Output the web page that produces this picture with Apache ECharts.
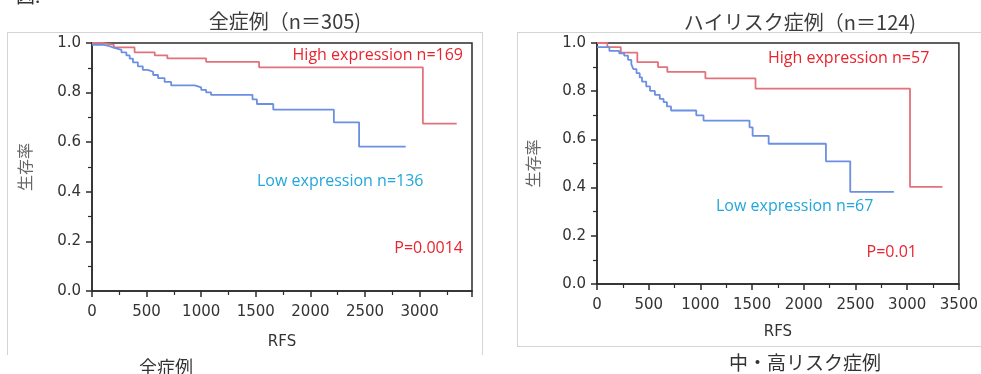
<!DOCTYPE html>
<html>
<head>
<meta charset="utf-8">
<script src="https://cdn.jsdelivr.net/npm/echarts@6/dist/echarts.min.js"></script>
<style>
  html, body { margin: 0; padding: 0; background: #fff; }
  #chart { width: 981px; height: 374px; }
</style>
</head>
<body>
<div id="chart"></div>
<script>
// 全症例 (n=305)
const allHighTime = [0, 100, 200, 390, 575, 690, 1045, 1530, 3030, 3340];
const allHighSurv = [1.0, 0.992, 0.982, 0.962, 0.95, 0.938, 0.924, 0.902, 0.675, 0.675];
const allLowTime = [0, 100, 160, 205, 270, 315, 345, 375, 420, 465, 510, 560, 605, 665, 725, 940, 1000, 1045, 1090, 1470, 1510, 1660, 2215, 2446, 2873];
const allLowSurv = [0.993, 0.987, 0.98, 0.972, 0.962, 0.95, 0.937, 0.922, 0.906, 0.892, 0.884, 0.871, 0.858, 0.843, 0.829, 0.821, 0.811, 0.801, 0.791, 0.773, 0.754, 0.731, 0.68, 0.582, 0.582];

// ハイリスク症例 (n=124)
const riskHighTime = [0, 100, 230, 390, 590, 680, 1048, 1533, 3027, 3340];
const riskHighSurv = [1.0, 0.983, 0.96, 0.921, 0.9, 0.88, 0.853, 0.811, 0.403, 0.403];
const riskLowTime = [0, 120, 215, 263, 300, 332, 351, 382, 413, 435, 476, 513, 560, 607, 644, 676, 716, 960, 1030, 1475, 1505, 1660, 2214, 2449, 2871];
const riskLowSurv = [0.983, 0.967, 0.957, 0.948, 0.93, 0.912, 0.892, 0.875, 0.857, 0.84, 0.82, 0.801, 0.785, 0.768, 0.755, 0.737, 0.72, 0.7, 0.678, 0.65, 0.615, 0.582, 0.509, 0.382, 0.382];

const yTicks = [0, 0.2, 0.4, 0.6, 0.8, 1.0];
const xTickStep = 500;

const HIGH_COLOR = "#e2727c";
const LOW_COLOR = "#6b8fe2";
const RED_TEXT = "#e8242e";
const CYAN_TEXT = "#22a6dc";
const AXIS_COLOR = "#2b2b2b";
const LABEL_FONT = "DejaVu Sans";
const JP_FONT = "Noto Sans CJK JP";
const NOTE_FONT = "Open Sans";

const pairs = (xs, ys) => xs.map((x, i) => [x, ys[i]]);

const xAxisFor = (gridIndex, max) => ({
  type: "value",
  gridIndex,
  min: 0,
  max,
  interval: xTickStep,
  name: "RFS",
  nameLocation: "middle",
  nameGap: gridIndex === 0 ? 44 : 41,
  nameTextStyle: { color: "#333", fontFamily: LABEL_FONT, fontSize: 15 },
  axisLine: { show: true, lineStyle: { color: AXIS_COLOR, width: 1.5 } },
  axisTick: { show: true, length: 6, lineStyle: { color: AXIS_COLOR, width: 1.5 } },
  minorTick: { show: true, splitNumber: 2, length: 4, lineStyle: { color: AXIS_COLOR, width: 1.2 } },
  axisLabel: {
    color: "#333",
    fontFamily: LABEL_FONT,
    fontSize: 15,
    margin: 14,
    formatter: (v) => (v % xTickStep === 0 ? String(v) : ""),
  },
  splitLine: { show: false },
});

const yAxisFor = (gridIndex) => ({
  type: "value",
  gridIndex,
  min: yTicks[0],
  max: yTicks[yTicks.length - 1],
  interval: 0.2,
  name: "生存率",
  nameLocation: "middle",
  nameRotate: 90,
  nameGap: gridIndex === 0 ? 59 : 56,
  nameTextStyle: { color: "#666", fontFamily: JP_FONT, fontSize: 16 },
  axisLine: { show: true, lineStyle: { color: AXIS_COLOR, width: 1.5 } },
  axisTick: { show: true, length: 6, lineStyle: { color: AXIS_COLOR, width: 1.5 } },
  minorTick: { show: true, splitNumber: 2, length: 4, lineStyle: { color: AXIS_COLOR, width: 1.2 } },
  axisLabel: {
    color: "#333",
    fontFamily: LABEL_FONT,
    fontSize: 15,
    margin: 11,
    formatter: (v) => v.toFixed(1),
  },
  splitLine: { show: false },
});

const stepSeries = (name, data, color, idx) => ({
  name,
  type: "line",
  step: "end",
  xAxisIndex: idx,
  yAxisIndex: idx,
  data,
  symbol: "none",
  lineStyle: { color, width: 1.8 },
  animation: false,
});

const text = (x, y, str, fill, opts = {}) => ({
  type: "text",
  x,
  y,
  style: {
    text: str,
    fill,
    font: `${opts.size || 16}px "${opts.font || NOTE_FONT}"`,
    align: opts.align || "left",
    verticalAlign: "middle",
  },
});

const line = (x1, y1, x2, y2) => ({
  type: "line",
  shape: { x1, y1, x2, y2 },
  style: { stroke: "#d4d4d4", lineWidth: 1 },
  z: -1,
});

const chart = echarts.init(document.getElementById("chart"));

chart.setOption({
  animation: false,
  grid: [
    { left: 92, top: 43, width: 380, height: 248, show: true, borderColor: AXIS_COLOR, borderWidth: 1.5, backgroundColor: "transparent" },
    { left: 597, top: 43, width: 372, height: 241, show: true, borderColor: AXIS_COLOR, borderWidth: 1.5, backgroundColor: "transparent" },
  ],
  xAxis: [xAxisFor(0, 3480), xAxisFor(1, 3500)],
  yAxis: [yAxisFor(0), yAxisFor(1)],
  series: [
    stepSeries("High expression n=169", pairs(allHighTime, allHighSurv), HIGH_COLOR, 0),
    stepSeries("Low expression n=136", pairs(allLowTime, allLowSurv), LOW_COLOR, 0),
    stepSeries("High expression n=57", pairs(riskHighTime, riskHighSurv), HIGH_COLOR, 1),
    stepSeries("Low expression n=67", pairs(riskLowTime, riskLowSurv), LOW_COLOR, 1),
  ],
  graphic: [
    // outer frames
    line(7, 32.5, 483, 32.5),
    line(7.5, 32, 7.5, 355),
    line(482.5, 32, 482.5, 355),
    line(517, 32.5, 981, 32.5),
    line(517.5, 32, 517.5, 347),
    line(517, 346.5, 981, 346.5),
    // top-left figure mark (cut off)
    text(16, -4, "図.", "#333", { font: JP_FONT, size: 19 }),
    // titles
    text(285, 21, "全症例（n＝305)", "#3c3c3c", { font: JP_FONT, size: 20, align: "center" }),
    text(800, 22, "ハイリスク症例（n＝124)", "#3c3c3c", { font: JP_FONT, size: 20, align: "center" }),
    // captions
    text(166, 367, "全症例", "#333", { font: JP_FONT, size: 18, align: "center" }),
    text(805, 363, "中・高リスク症例", "#333", { font: JP_FONT, size: 19, align: "center" }),
    // annotations, left
    text(463, 55, "High expression n=169", RED_TEXT, { align: "right" }),
    text(257, 181, "Low expression n=136", CYAN_TEXT),
    text(463, 248, "P=0.0014", RED_TEXT, { align: "right" }),
    // annotations, right
    text(768, 58, "High expression n=57", RED_TEXT),
    text(716, 206, "Low expression n=67", CYAN_TEXT),
    text(917, 252, "P=0.01", RED_TEXT, { align: "right" }),
  ],
});
</script>
</body>
</html>
